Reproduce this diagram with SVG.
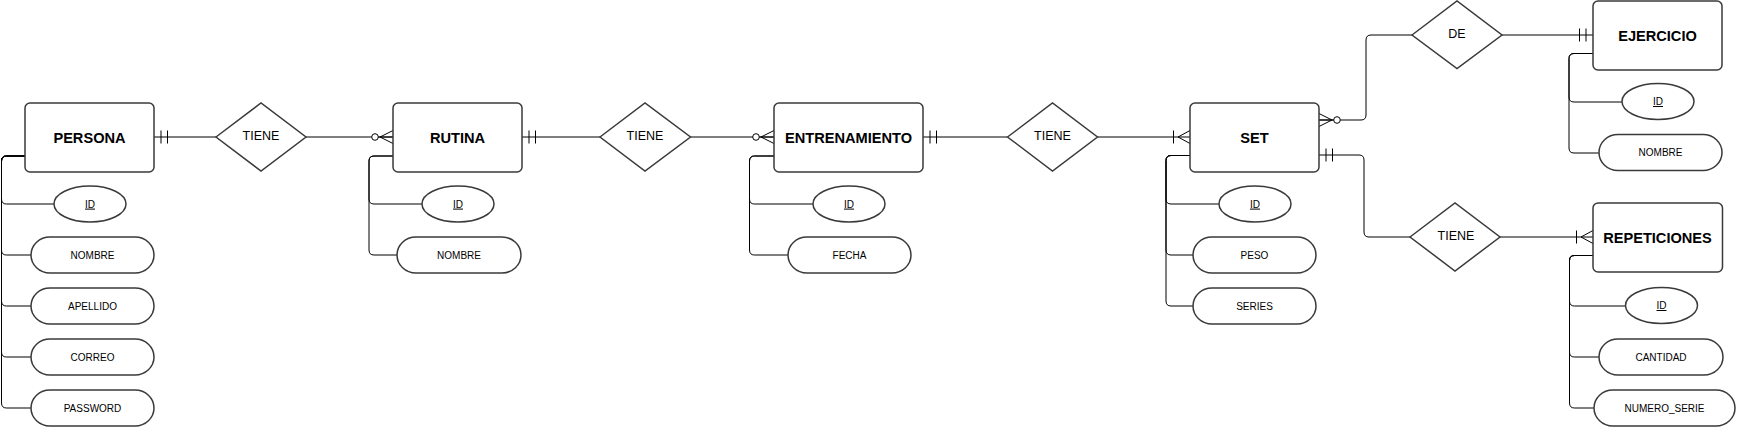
<svg xmlns="http://www.w3.org/2000/svg" width="1737" height="427" viewBox="0 0 1737 427">
<style>
.ent{fill:#fff;stroke:#3a3a3a;stroke-width:1.5}
.rel{fill:#fff;stroke:#3a3a3a;stroke-width:1.5}
.att{fill:#fff;stroke:#3a3a3a;stroke-width:1.5}
.con{fill:none;stroke:#000;stroke-width:1}
.et{font-family:"Liberation Sans",Arial,sans-serif;font-weight:bold;font-size:14.6px;text-anchor:middle;fill:#000}
.rt{font-family:"Liberation Sans",Arial,sans-serif;font-size:12.5px;text-anchor:middle;fill:#000}
.at{font-family:"Liberation Sans",Arial,sans-serif;font-size:10px;text-anchor:middle;fill:#000}
.pk{text-decoration:underline}
</style>
<defs>
<marker id="mandOne" markerUnits="userSpaceOnUse" viewBox="-20 -10 22 20" refX="0" refY="0" markerWidth="22" markerHeight="20" orient="auto">
<path d="M-7,-6.5 V6.5 M-13.5,-6.5 V6.5" fill="none" stroke="#000" stroke-width="1"/>
</marker>
<marker id="zeroMany" markerUnits="userSpaceOnUse" viewBox="-24 -10 26 20" refX="0" refY="0" markerWidth="26" markerHeight="20" orient="auto">
<path d="M-13,0 L0,-6.5 M-13,0 L0,6.5 M-14.5,0 H0" fill="none" stroke="#000" stroke-width="1"/>
<circle cx="-18" cy="0" r="3.3" fill="#fff" stroke="#000" stroke-width="1"/>
</marker>
<marker id="oneMany" markerUnits="userSpaceOnUse" viewBox="-20 -10 22 20" refX="0" refY="0" markerWidth="22" markerHeight="20" orient="auto">
<path d="M-12,0 L0,-6.5 M-12,0 L0,6.5 M-16.5,-6.5 V6.5" fill="none" stroke="#000" stroke-width="1"/>
</marker>
</defs>

<g id="connectors">
<path class="con" d="M216,137 H154" marker-end="url(#mandOne)"/>
<path class="con" d="M306,137 H393" marker-end="url(#zeroMany)"/>
<path class="con" d="M600,137 H522" marker-end="url(#mandOne)"/>
<path class="con" d="M690.5,137 H774" marker-end="url(#zeroMany)"/>
<path class="con" d="M1007.5,137 H923" marker-end="url(#mandOne)"/>
<path class="con" d="M1097.5,137 H1190" marker-end="url(#oneMany)"/>
<path class="con" d="M1412,35 H1371 Q1366,35 1366,40 V115 Q1366,120 1361,120 H1319" marker-end="url(#zeroMany)"/>
<path class="con" d="M1502,35 H1593" marker-end="url(#mandOne)"/>
<path class="con" d="M1410,237 H1369 Q1364,237 1364,232 V160 Q1364,155 1359,155 H1319" marker-end="url(#mandOne)"/>
<path class="con" d="M1500,237 H1593" marker-end="url(#oneMany)"/>
<!-- attribute links PERSONA -->
<path class="con" d="M25,156 H6.5 Q1.5,156 1.5,161 V199 Q1.5,204 6.5,204 H54"/>
<path class="con" d="M25,156 H6.5 Q1.5,156 1.5,161 V250 Q1.5,255 6.5,255 H31"/>
<path class="con" d="M25,156 H6.5 Q1.5,156 1.5,161 V301 Q1.5,306 6.5,306 H31"/>
<path class="con" d="M25,156 H6.5 Q1.5,156 1.5,161 V352 Q1.5,357 6.5,357 H31"/>
<path class="con" d="M25,156 H6.5 Q1.5,156 1.5,161 V403 Q1.5,408 6.5,408 H31"/>
<!-- RUTINA -->
<path class="con" d="M393,156 H374 Q369,156 369,161 V199 Q369,204 374,204 H422"/>
<path class="con" d="M393,156 H374 Q369,156 369,161 V250 Q369,255 374,255 H397"/>
<!-- ENTRENAMIENTO -->
<path class="con" d="M774,156 H754.5 Q749.5,156 749.5,161 V199 Q749.5,204 754.5,204 H813"/>
<path class="con" d="M774,156 H754.5 Q749.5,156 749.5,161 V250 Q749.5,255 754.5,255 H788"/>
<!-- SET -->
<path class="con" d="M1190,155.5 H1171 Q1166,155.5 1166,160.5 V199 Q1166,204 1171,204 H1219"/>
<path class="con" d="M1190,155.5 H1171 Q1166,155.5 1166,160.5 V250 Q1166,255 1171,255 H1193"/>
<path class="con" d="M1190,155.5 H1171 Q1166,155.5 1166,160.5 V301 Q1166,306 1171,306 H1193"/>
<!-- EJERCICIO -->
<path class="con" d="M1593,53.5 H1574 Q1569,53.5 1569,58.5 V97 Q1569,102 1574,102 H1622"/>
<path class="con" d="M1593,53.5 H1574 Q1569,53.5 1569,58.5 V148 Q1569,153 1574,153 H1599"/>
<!-- REPETICIONES -->
<path class="con" d="M1593,255.5 H1574.5 Q1569.5,255.5 1569.5,260.5 V301 Q1569.5,306 1574.5,306 H1625.5"/>
<path class="con" d="M1593,255.5 H1574.5 Q1569.5,255.5 1569.5,260.5 V352 Q1569.5,357 1574.5,357 H1599"/>
<path class="con" d="M1593,255.5 H1574.5 Q1569.5,255.5 1569.5,260.5 V403 Q1569.5,408 1574.5,408 H1594"/>
</g>

<g id="persona">
<rect class="ent" x="25" y="103" width="129" height="69" rx="5"/>
<text class="et" x="89.5" y="143.3">PERSONA</text>
</g>
<g id="persona-id"><ellipse class="att" cx="90" cy="204" rx="36" ry="18"/><text class="at pk" x="90" y="207.6">ID</text></g>
<g id="persona-nombre"><rect class="att" x="31" y="237" width="123" height="36" rx="19" ry="18"/><text class="at" x="92.5" y="258.6">NOMBRE</text></g>
<g id="persona-apellido"><rect class="att" x="31" y="288" width="123" height="36" rx="19" ry="18"/><text class="at" x="92.5" y="309.6">APELLIDO</text></g>
<g id="persona-correo"><rect class="att" x="31" y="339" width="123" height="36" rx="19" ry="18"/><text class="at" x="92.5" y="360.6">CORREO</text></g>
<g id="persona-password"><rect class="att" x="31" y="390" width="123" height="36" rx="19" ry="18"/><text class="at" x="92.5" y="411.6">PASSWORD</text></g>

<g id="tiene1">
<polygon class="rel" points="216,137 261,103 306,137 261,171"/>
<text class="rt" x="261" y="139.5">TIENE</text>
</g>

<g id="rutina">
<rect class="ent" x="393" y="103" width="129" height="69" rx="5"/>
<text class="et" x="457.5" y="143.3">RUTINA</text>
</g>
<g id="rutina-id"><ellipse class="att" cx="458" cy="204" rx="36" ry="18"/><text class="at pk" x="458" y="207.6">ID</text></g>
<g id="rutina-nombre"><rect class="att" x="397" y="237" width="124" height="36" rx="19" ry="18"/><text class="at" x="459" y="258.6">NOMBRE</text></g>

<g id="tiene2">
<polygon class="rel" points="600,137 645,103 690.5,137 645,171"/>
<text class="rt" x="645" y="139.5">TIENE</text>
</g>

<g id="entrenamiento">
<rect class="ent" x="774" y="103" width="149" height="69" rx="5"/>
<text class="et" x="848.5" y="143.3">ENTRENAMIENTO</text>
</g>
<g id="entrenamiento-id"><ellipse class="att" cx="849" cy="204" rx="36" ry="18"/><text class="at pk" x="849" y="207.6">ID</text></g>
<g id="entrenamiento-fecha"><rect class="att" x="788" y="237" width="123" height="36" rx="19" ry="18"/><text class="at" x="849.5" y="258.6">FECHA</text></g>

<g id="tiene3">
<polygon class="rel" points="1007.5,137 1052.5,103 1097.5,137 1052.5,171"/>
<text class="rt" x="1052.5" y="139.5">TIENE</text>
</g>

<g id="set">
<rect class="ent" x="1190" y="103" width="129" height="69" rx="5"/>
<text class="et" x="1254.5" y="143.3">SET</text>
</g>
<g id="set-id"><ellipse class="att" cx="1255" cy="204" rx="36" ry="18"/><text class="at pk" x="1255" y="207.6">ID</text></g>
<g id="set-peso"><rect class="att" x="1193" y="237" width="123" height="36" rx="19" ry="18"/><text class="at" x="1254.5" y="258.6">PESO</text></g>
<g id="set-series"><rect class="att" x="1193" y="288" width="123" height="36" rx="19" ry="18"/><text class="at" x="1254.5" y="309.6">SERIES</text></g>

<g id="de">
<polygon class="rel" points="1412,35 1457,1 1502,35 1457,68.5"/>
<text class="rt" x="1457" y="37.8">DE</text>
</g>

<g id="ejercicio">
<rect class="ent" x="1593" y="1" width="129" height="69" rx="5"/>
<text class="et" x="1657.5" y="40.5">EJERCICIO</text>
</g>
<g id="ejercicio-id"><ellipse class="att" cx="1658" cy="101.5" rx="36" ry="18"/><text class="at pk" x="1658" y="105">ID</text></g>
<g id="ejercicio-nombre"><rect class="att" x="1599" y="134.5" width="123" height="36" rx="19" ry="18"/><text class="at" x="1660.5" y="156.1">NOMBRE</text></g>

<g id="tiene4">
<polygon class="rel" points="1410,237 1455,203 1500,237 1455,271"/>
<text class="rt" x="1456" y="239.5">TIENE</text>
</g>

<g id="repeticiones">
<rect class="ent" x="1593" y="203" width="129.5" height="69" rx="5"/>
<text class="et" x="1657.5" y="242.5">REPETICIONES</text>
</g>
<g id="repeticiones-id"><ellipse class="att" cx="1661.5" cy="305.5" rx="36" ry="18"/><text class="at pk" x="1661.5" y="309">ID</text></g>
<g id="repeticiones-cantidad"><rect class="att" x="1599" y="339" width="124" height="36" rx="19" ry="18"/><text class="at" x="1661" y="360.6">CANTIDAD</text></g>
<g id="repeticiones-numero"><rect class="att" x="1594" y="390" width="141" height="36" rx="19" ry="18"/><text class="at" x="1664.5" y="411.6">NUMERO_SERIE</text></g>
</svg>
